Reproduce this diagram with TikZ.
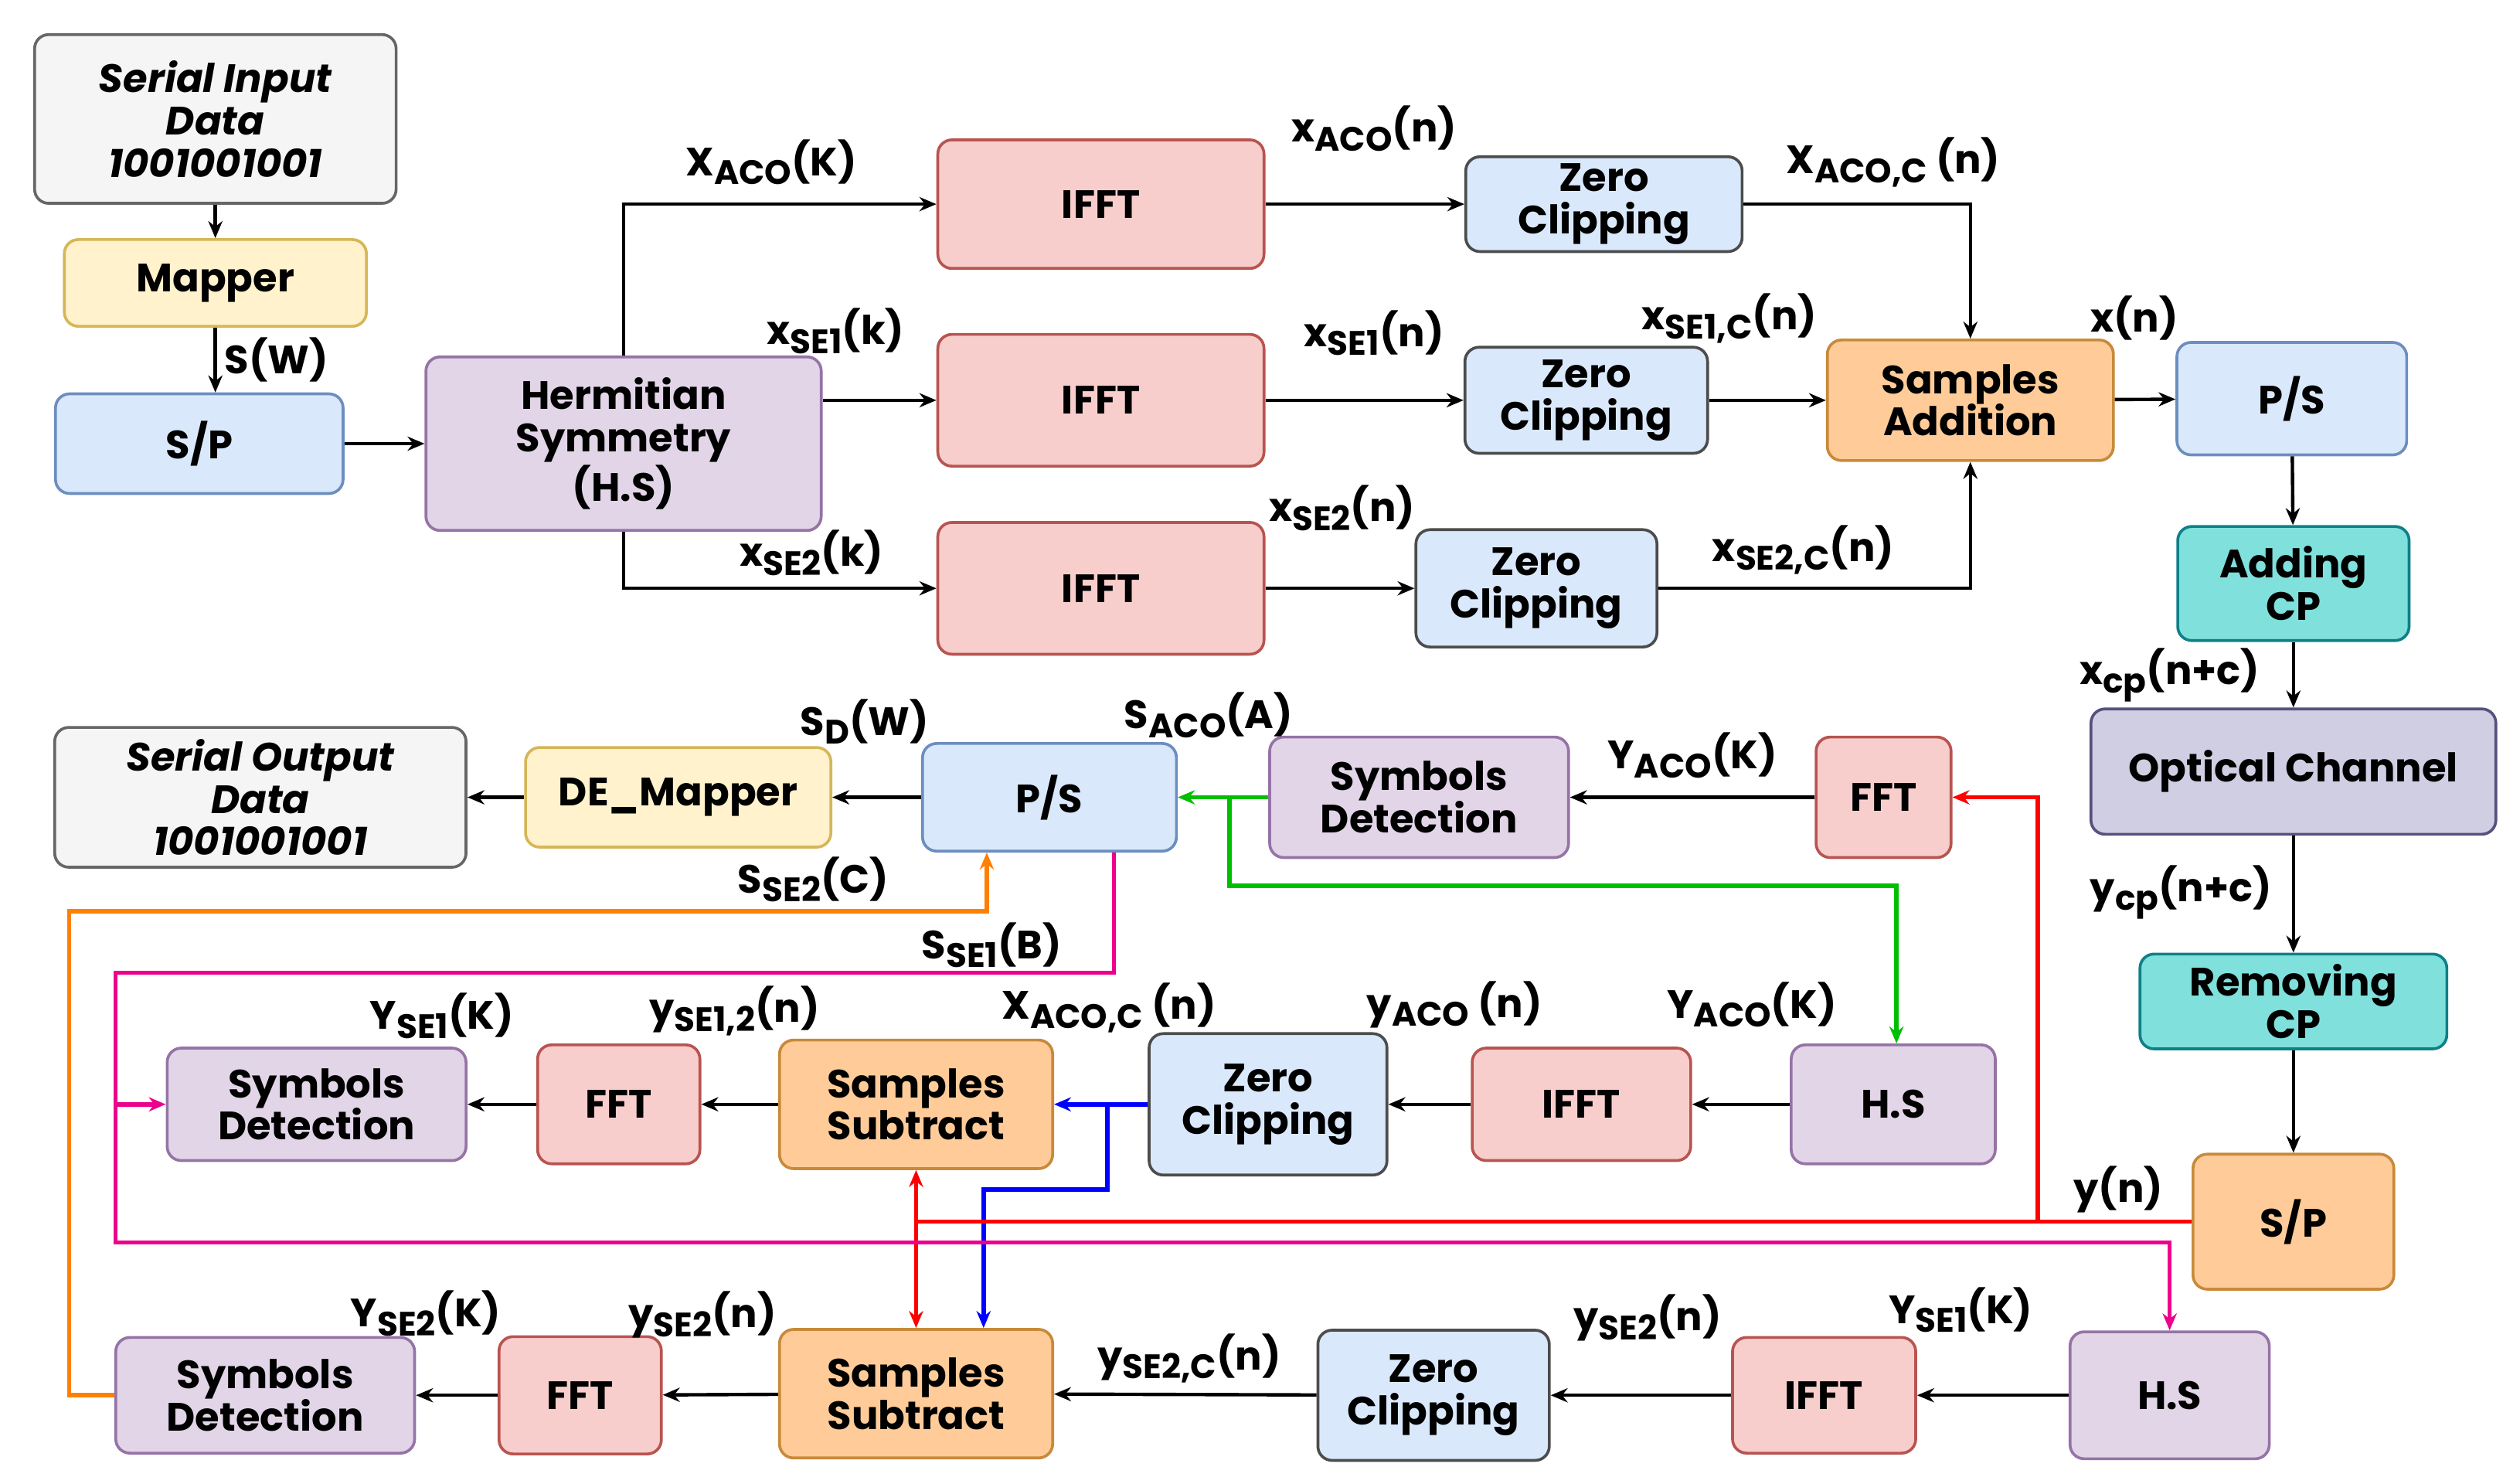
\documentclass[tikz,border=0pt]{standalone}
\usepackage{fontspec}
\setmainfont{Poppins}
\usetikzlibrary{arrows.meta}
\newcommand\sbs[1]{\raisebox{-0.4ex}{\fontsize{12}{12}\selectfont #1}}
\definecolor{gfill}{HTML}{F5F5F5}\definecolor{gline}{HTML}{666666}
\definecolor{yfill}{HTML}{FFF2CC}\definecolor{yline}{HTML}{D6B656}
\definecolor{bfill}{HTML}{DAE8FC}\definecolor{bline}{HTML}{6C8EBF}
\definecolor{pfill}{HTML}{E1D5E7}\definecolor{pline}{HTML}{9673A6}
\definecolor{rfill}{HTML}{F8CECC}\definecolor{rline}{HTML}{B85450}
\definecolor{ofill}{HTML}{FFCC99}\definecolor{oline}{HTML}{C88A3A}
\definecolor{tfill}{HTML}{7FE0DC}\definecolor{tline}{HTML}{0E8088}
\definecolor{lfill}{HTML}{D0CEE2}\definecolor{lline}{HTML}{56517E}
\tikzset{
 box/.style={draw, rounded corners=5pt, line width=1pt, align=center, inner sep=1pt,
   font=\fontsize{14}{15}\selectfont\bfseries},
 gr/.style={box, fill=gfill, draw=gline},
 ye/.style={box, fill=yfill, draw=yline},
 bl/.style={box, fill=bfill, draw=bline},
 zc/.style={box, fill=bfill, draw=black!70},
 pu/.style={box, fill=pfill, draw=pline},
 re/.style={box, fill=rfill, draw=rline},
 or/.style={box, fill=ofill, draw=oline},
 te/.style={box, fill=tfill, draw=tline},
 li/.style={box, fill=lfill, draw=lline},
 ar/.style={draw, line width=1.2pt, -{Stealth[length=6pt,width=5pt]}},
 car/.style={ar, line width=1.5pt},
 lb/.style={font=\fontsize{14}{15}\selectfont\bfseries, inner sep=0pt},
}
\begin{document}
\begin{tikzpicture}[x=0.02cm,y=-0.02cm]
\useasboundingbox (0,0) rectangle (1568,923);
\node[gr, minimum width=4.5cm, minimum height=2.1cm] (sin) at (134,74) {\itshape Serial Input\\\itshape Data\\\itshape 1001001001};
\node[ye, minimum width=3.76cm, minimum height=1.08cm] (map) at (134,176) {Mapper};
\node[bl, minimum width=3.58cm, minimum height=1.24cm] (sp) at (124,276) {S/P};
\node[pu, minimum width=4.92cm, minimum height=2.16cm] (hs) at (388,276) {Hermitian\\Symmetry\\(H.S)};
\node[re, minimum width=4.06cm, minimum height=1.6cm] (if1) at (685,127) {IFFT};
\node[re, minimum width=4.06cm, minimum height=1.64cm] (if2) at (685,249) {IFFT};
\node[re, minimum width=4.06cm, minimum height=1.64cm] (if3) at (685,366) {IFFT};
\node[zc, minimum width=3.44cm, minimum height=1.18cm] (zc1) at (998,127) {Zero\\Clipping};
\node[zc, minimum width=3.02cm, minimum height=1.32cm] (zc2) at (987,249) {Zero\\Clipping};
\node[zc, minimum width=3.0cm, minimum height=1.46cm] (zc3) at (956,366) {Zero\\Clipping};
\node[or, minimum width=3.56cm, minimum height=1.5cm] (sa) at (1226,249) {Samples\\Addition};
\node[bl, minimum width=2.86cm, minimum height=1.4cm] (ps1) at (1426,248) {P/S};
\node[te, minimum width=2.88cm, minimum height=1.42cm] (acp) at (1427,363) {Adding\\CP};
\node[li, minimum width=5.04cm, minimum height=1.56cm] (oc) at (1427,480) {Optical Channel};
\node[te, minimum width=3.82cm, minimum height=1.18cm] (rcp) at (1427,623) {Removing\\CP};
\node[or, minimum width=2.5cm, minimum height=1.68cm] (sp2) at (1427,760) {S/P};
\node[gr, minimum width=5.12cm, minimum height=1.74cm] (sout) at (162,496) {\itshape Serial Output\\\itshape Data\\\itshape 1001001001};
\node[ye, minimum width=3.8cm, minimum height=1.24cm] (dem) at (422,496) {DE\_Mapper};
\node[bl, minimum width=3.16cm, minimum height=1.34cm] (ps2) at (653,496) {P/S};
\node[pu, minimum width=3.72cm, minimum height=1.5cm] (sd1) at (883,496) {Symbols\\Detection};
\node[re, minimum width=1.68cm, minimum height=1.5cm] (fft1) at (1172,496) {FFT};
\node[pu, minimum width=2.54cm, minimum height=1.48cm] (hs3) at (1178,687) {H.S};
\node[re, minimum width=2.72cm, minimum height=1.4cm] (if4) at (984,687) {IFFT};
\node[zc, minimum width=2.96cm, minimum height=1.76cm] (zc4) at (789,687) {Zero\\Clipping};
\node[or, minimum width=3.4cm, minimum height=1.6cm] (ss3) at (570,687) {Samples\\Subtract};
\node[re, minimum width=2.02cm, minimum height=1.48cm] (fft3) at (385,687) {FFT};
\node[pu, minimum width=3.72cm, minimum height=1.4cm] (sd3) at (197,687) {Symbols\\Detection};
\node[pu, minimum width=2.48cm, minimum height=1.58cm] (hs4) at (1350,868) {H.S};
\node[re, minimum width=2.28cm, minimum height=1.44cm] (if5) at (1135,868) {IFFT};
\node[zc, minimum width=2.88cm, minimum height=1.62cm] (zc5) at (892,868) {Zero\\Clipping};
\node[or, minimum width=3.4cm, minimum height=1.6cm] (ss4) at (570,867) {Samples\\Subtract};
\node[re, minimum width=2.02cm, minimum height=1.46cm] (fft4) at (361,868) {FFT};
\node[pu, minimum width=3.72cm, minimum height=1.44cm] (sd4) at (165,868) {Symbols\\Detection};
% coordinates
\coordinate (h1) at (388,127); \coordinate (h3) at (388,366);
\coordinate (c1) at (1226,127); \coordinate (c3) at (1226,366);
\coordinate (r1) at (1268,760); \coordinate (r2) at (1268,496);
\coordinate (r3) at (570,760);
\coordinate (g1) at (765,496); \coordinate (g2) at (765,551); \coordinate (g3) at (1180,551);
\coordinate (b1) at (689,687); \coordinate (b2) at (689,740); \coordinate (b3) at (612,740);
\coordinate (m0) at (693,605); \coordinate (m1) at (72,605); \coordinate (m2) at (72,773); \coordinate (m3) at (1350,773); \coordinate (m4) at (72,687);
\coordinate (o1) at (43,868); \coordinate (o2) at (43,567); \coordinate (o3) at (614,567);
% top
\draw[ar] (sin) -- (map);
\draw[ar] (map) -- (map.south |- sp.north);
\draw[ar] (sp) -- (hs);
\draw[ar] (hs.north) -- (h1) -- (if1);
\draw[ar] (hs.east |- if2) -- (if2);
\draw[ar] (hs.south) -- (h3) -- (if3);
\draw[ar] (if1) -- (zc1);
\draw[ar] (if2) -- (zc2);
\draw[ar] (if3) -- (zc3);
\draw[ar] (zc1) -- (c1) -- (sa);
\draw[ar] (zc2) -- (sa);
\draw[ar] (zc3) -- (c3) -- (sa);
\draw[ar] (sa) -- (ps1);
\draw[ar] (ps1) -- (acp);
\draw[ar] (acp) -- (oc);
\draw[ar] (oc) -- (rcp);
\draw[ar] (rcp) -- (sp2);
% middle
\draw[ar] (fft1) -- (sd1);
\draw[ar] (ps2) -- (dem);
\draw[ar] (dem) -- (sout);
\draw[car, green!75!black] (sd1) -- (ps2);
\draw[car, green!75!black] (g1) -- (g2) -- (g3) -- (hs3.north -| g3);
\draw[ar] (hs3) -- (if4);
\draw[ar] (if4) -- (zc4);
\draw[car, blue] (zc4) -- (ss3);
\draw[car, blue] (b1) -- (b2) -- (b3) -- (ss4.north -| b3);
\draw[ar] (ss3) -- (fft3);
\draw[ar] (fft3) -- (sd3);
\draw[ar] (hs4) -- (if5);
\draw[ar] (if5) -- (zc5);
\draw[ar] (zc5) -- (ss4);
\draw[ar] (ss4) -- (fft4);
\draw[ar] (fft4) -- (sd4);
% red
\draw[car, red] (sp2.west |- r1) -- (r1) -- (r2) -- (fft1);
\draw[car, red] (r1) -- (r3) -- (ss3);
\draw[car, red] (r3) -- (ss4);
% magenta
\draw[car, magenta] (ps2.south -| m0) -- (m0) -- (m1) -- (m2) -- (m3) -- (hs4);
\draw[car, magenta] (m4) -- (sd3);
% orange
\draw[car, orange] (sd4) -- (o1) -- (o2) -- (o3) -- (ps2.south -| o3);
% labels
\node[lb] (l1) at (172,224) {S(W)};
\node[lb] (l2) at (480,101) {X\sbs{ACO}(K)};
\node[lb] (l3) at (520,206) {x\sbs{SE1}(k)};
\node[lb] (l4) at (505,344) {x\sbs{SE2}(k)};
\node[lb] (l5) at (855,80) {x\sbs{ACO}(n)};
\node[lb] (l6) at (855,207) {x\sbs{SE1}(n)};
\node[lb] (l7) at (835,316) {x\sbs{SE2}(n)};
\node[lb] (l8) at (1178,101) {X\sbs{ACO,C} (n)};
\node[lb] (l9) at (1076,198) {x\sbs{SE1,C}(n)};
\node[lb] (l10) at (1122,342) {x\sbs{SE2,C}(n)};
\node[lb] (l11) at (1328,198) {x(n)};
\node[lb] (l12) at (1350,420) {x\sbs{cp}(n+c)};
\node[lb] (l13) at (1357,555) {y\sbs{cp}(n+c)};
\node[lb] (l14) at (1318,740) {y(n)};
\node[lb] (l15) at (1053,470) {Y\sbs{ACO}(K)};
\node[lb] (l16) at (752,445) {S\sbs{ACO}(A)};
\node[lb] (l17) at (538,449) {S\sbs{D}(W)};
\node[lb] (l18) at (506,547) {S\sbs{SE2}(C)};
\node[lb] (l19) at (617,588) {S\sbs{SE1}(B)};
\node[lb] (l20) at (1090,625) {Y\sbs{ACO}(K)};
\node[lb] (l21) at (905,625) {y\sbs{ACO} (n)};
\node[lb] (l22) at (690,627) {X\sbs{ACO,C} (n)};
\node[lb] (l23) at (457,629) {y\sbs{SE1,2}(n)};
\node[lb] (l24) at (275,632) {Y\sbs{SE1}(K)};
\node[lb] (l25) at (1220,815) {Y\sbs{SE1}(K)};
\node[lb] (l26) at (1025,820) {y\sbs{SE2}(n)};
\node[lb] (l27) at (740,845) {y\sbs{SE2,C}(n)};
\node[lb] (l28) at (437,818) {y\sbs{SE2}(n)};
\node[lb] (l29) at (265,817) {Y\sbs{SE2}(K)};
\end{tikzpicture}
\end{document}
